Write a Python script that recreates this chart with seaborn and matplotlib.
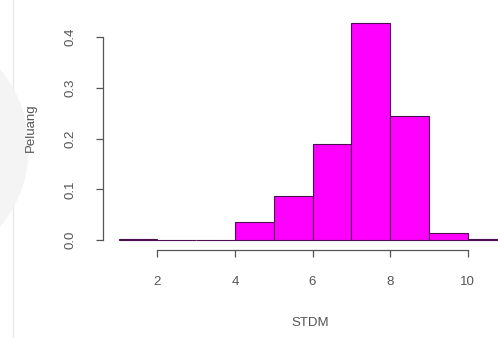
import numpy as np
import matplotlib
matplotlib.use("Agg")
import matplotlib.pyplot as plt
import seaborn as sns
from matplotlib.patches import Ellipse

# histogram data (density, bin width 1)
bin_edges = [1, 2, 3, 4, 5, 6, 7, 8, 9, 10, 11]
densities = [0.002, 0.0, 0.0, 0.036, 0.087, 0.19, 0.428, 0.245, 0.014, 0.001]
x_ticks = [2, 4, 6, 8, 10]
y_ticks = [0.0, 0.1, 0.2, 0.3, 0.4]
y_ticklabels = ["0.0", "0.1", "0.2", "0.3", "0.4"]

sns.set_style("white")
plt.rcParams["font.family"] = ["Liberation Sans", "DejaVu Sans"]

W, H = 498, 338
fig = plt.figure(figsize=(W / 100, H / 100), dpi=100)

# faint background artifacts on the left of the screenshot
fig.patches.append(Ellipse((-100 / W, 1 - 148 / H), 256 / W, 250 / H,
                           transform=fig.transFigure, color="#f4f4f4", zorder=0))
fig.add_artist(plt.Line2D([13 / W, 13 / W], [0, 1], transform=fig.transFigure,
                          color="#e9e9e9", lw=1, zorder=0))

# axes placed so data maps onto the reference pixels
ax = fig.add_axes([103 / W, (H - 250) / H, (W - 103) / W, 235 / H])
ax.patch.set_alpha(0)

centers = np.array(bin_edges[:-1]) + 0.5
sns.histplot(x=centers, weights=densities, bins=bin_edges, stat="count",
             color="#ff00ff", alpha=1, edgecolor="#4a1050", linewidth=0.8, ax=ax)

px = 38.8  # pixels per x unit
ax.set_xlim(2 - (157.3 - 103) / px, 2 + (W - 157.3) / px)
ax.set_ylim(-10 / 507, 225 / 507)

for s in ["top", "right"]:
    ax.spines[s].set_visible(False)
ax.spines["left"].set_bounds(0, 0.4)
ax.spines["bottom"].set_bounds(2, 10)
for s in ["left", "bottom"]:
    ax.spines[s].set_color("#555555")
    ax.spines[s].set_linewidth(0.9)

ax.set_xticks(x_ticks)
ax.set_xticklabels([str(t) for t in x_ticks])
ax.set_yticks(y_ticks)
ax.set_yticklabels(y_ticklabels, rotation=90, va="center")
ax.tick_params(direction="out", length=5, width=0.9, color="#555555",
               labelcolor="#555555", labelsize=9.5, pad=14, left=True, bottom=True)
ax.set_xlabel("")
ax.set_ylabel("")

fig.text(31 / W, 1 - 128 / H, "Peluang", rotation=90, ha="center", va="center",
         fontsize=9.5, color="#555555")
fig.text(310 / W, 1 - 323 / H, "STDM", ha="center", va="center",
         fontsize=9.5, color="#555555")

fig.savefig("out.png", dpi=100)
